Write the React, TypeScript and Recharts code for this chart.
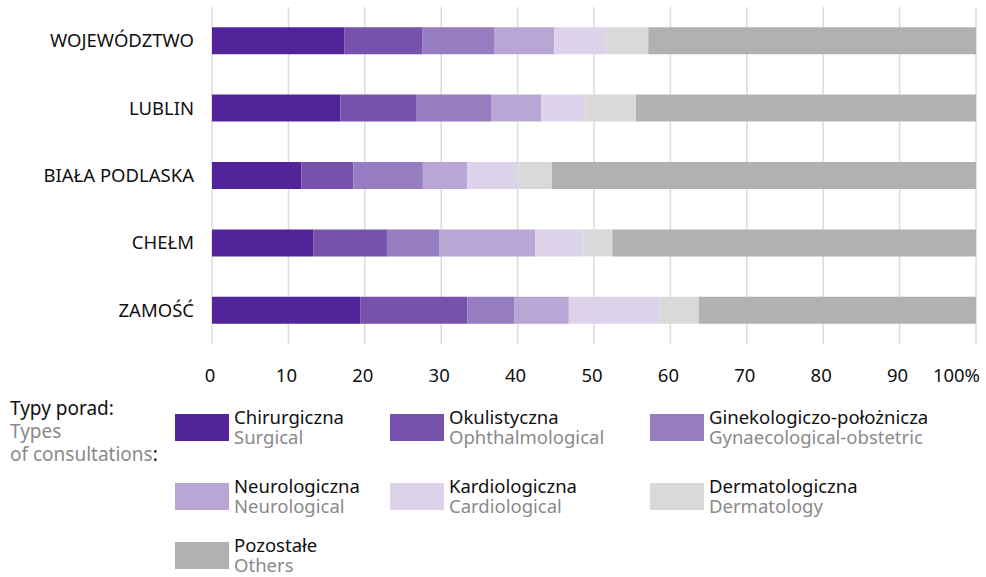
import React from 'react';
import { BarChart, Bar, XAxis, YAxis, CartesianGrid } from 'recharts';

const regions = ['WOJEWÓDZTWO', 'LUBLIN', 'BIAŁA PODLASKA', 'CHEŁM', 'ZAMOŚĆ'];
const surgical = [17.3, 16.8, 11.7, 13.3, 19.4];
const ophthalmological = [10.2, 9.9, 6.8, 9.6, 14.0];
const gynaecological = [9.5, 9.9, 9.1, 6.9, 6.2];
const neurological = [7.8, 6.5, 5.8, 12.5, 7.1];
const cardiological = [6.8, 5.8, 6.7, 6.2, 12.0];
const dermatology = [5.5, 6.6, 4.4, 3.9, 5.0];
const others = [42.9, 44.5, 55.5, 47.6, 36.3];
const xTicks = [0, 10, 20, 30, 40, 50, 60, 70, 80, 90, 100];

const series = [
  { key: 'surgical', pl: 'Chirurgiczna', en: 'Surgical', color: '#52249a', values: surgical },
  { key: 'ophthalmological', pl: 'Okulistyczna', en: 'Ophthalmological', color: '#7651ad', values: ophthalmological },
  { key: 'gynaecological', pl: 'Ginekologiczo-położnicza', en: 'Gynaecological-obstetric', color: '#967cc0', values: gynaecological },
  { key: 'neurological', pl: 'Neurologiczna', en: 'Neurological', color: '#baa6d4', values: neurological },
  { key: 'cardiological', pl: 'Kardiologiczna', en: 'Cardiological', color: '#dcd3ea', values: cardiological },
  { key: 'dermatology', pl: 'Dermatologiczna', en: 'Dermatology', color: '#d9d9d9', values: dermatology },
  { key: 'others', pl: 'Pozostałe', en: 'Others', color: '#b1b1b1', values: others },
];

const data = regions.map((name, i) => {
  const row: Record<string, string | number> = { name };
  series.forEach((s) => { row[s.key] = s.values[i]; });
  return row;
});

const FONT = '"Noto Sans", sans-serif';

const YTick = (props: any) => {
  const { x, y, payload } = props;
  return (
    <text x={x - 10} y={y} dy={6.5} textAnchor="end" fontSize={18.5} fill="#111" fontFamily={FONT}>
      {payload.value}
    </text>
  );
};

const XTick = (props: any) => {
  const { x, y, payload } = props;
  const last = payload.value === 100;
  return (
    <text x={last ? x + 4 : x - 2} y={y} dy={30} textAnchor={last ? 'end' : 'middle'} fontSize={18.5} fill="#111" fontFamily={FONT}>
      {last ? '100%' : payload.value}
    </text>
  );
};

const legendCols = [175, 390, 650];
const legendRows = [414, 483, 542];

export default function App() {
  return (
    <div style={{ position: 'absolute', left: 0, top: 0, width: 986, height: 577, background: '#fff', fontFamily: FONT }}>
      <BarChart
        width={986}
        height={395}
        data={data}
        layout="vertical"
        margin={{ top: 7, right: 10, left: 0, bottom: 11 }}
        barCategoryGap="30%"
      >
        <CartesianGrid horizontal={false} stroke="#dcdcdc" strokeWidth={1.5} />
        <XAxis
          type="number"
          domain={[0, 100]}
          ticks={xTicks}
          axisLine={false}
          tickLine={false}
          tick={<XTick />}
          height={40}
          interval={0}
        />
        <YAxis
          type="category"
          dataKey="name"
          width={212}
          axisLine={false}
          tickLine={false}
          tick={<YTick />}
        />
        {series.map((s) => (
          <Bar key={s.key} dataKey={s.key} stackId="a" fill={s.color} isAnimationActive={false} />
        ))}
      </BarChart>
      <div style={{ position: 'absolute', left: 10, top: 397, fontSize: 19, lineHeight: '23px' }}>
        <div style={{ color: '#111' }}>Typy porad:</div>
        <div style={{ color: '#8a8a8a' }}>Types</div>
        <div style={{ color: '#8a8a8a' }}>of consultations<span style={{ color: '#111' }}>:</span></div>
      </div>
      {series.map((s, i) => {
        const col = i % 3;
        const row = Math.floor(i / 3);
        return (
          <div key={s.key} style={{ position: 'absolute', left: legendCols[col], top: legendRows[row] }}>
            <div style={{ width: 54, height: 27, background: s.color }} />
            <div style={{ position: 'absolute', left: 59, top: -7, fontSize: 18.5, lineHeight: '19.5px', whiteSpace: 'nowrap' }}>
              <div style={{ color: '#111' }}>{s.pl}</div>
              <div style={{ color: '#8a8a8a' }}>{s.en}</div>
            </div>
          </div>
        );
      })}
    </div>
  );
}
